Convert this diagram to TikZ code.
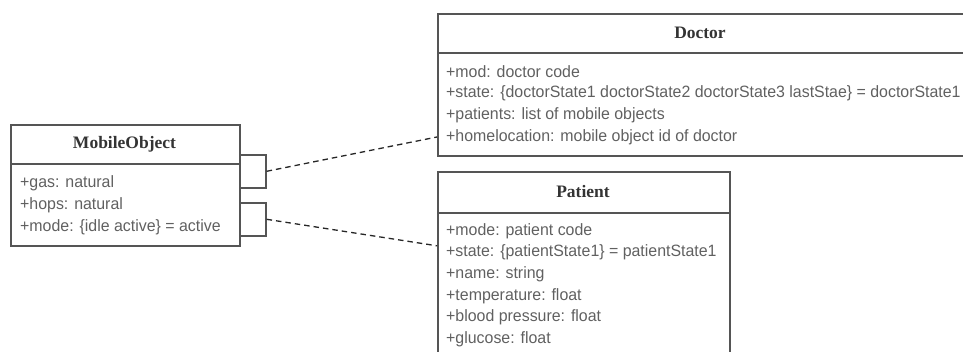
\documentclass[tikz,border=0pt]{standalone}
\usepackage{fontspec}
\setmainfont[FakeStretch=0.97]{Liberation Sans}
\newfontfamily\hdrfont{Liberation Serif}
\definecolor{lncol}{HTML}{555555}
\definecolor{txcol}{HTML}{606060}
\definecolor{hdcol}{HTML}{333333}
\begin{document}
\begin{tikzpicture}[x=1pt,y=-1pt,
  box/.style={draw=lncol,line width=1.6pt,rectangle,anchor=north west,inner sep=0pt,fill=none},
  stub/.style={draw=lncol,line width=1.6pt,rectangle,anchor=north west,inner sep=0pt,minimum width=26pt,minimum height=33pt},
  hdr/.style={font=\hdrfont\bfseries\fontsize{17.5}{20}\selectfont,text=hdcol,inner sep=0pt},
  attr/.style={font=\fontsize{16.4}{20}\selectfont,text=txcol,anchor=west,inner sep=0pt},
  conn/.style={draw=black!85,line width=1.3pt,dash pattern=on 5.5pt off 4pt}]
\useasboundingbox (0,0) rectangle (963,352);
\begin{scope}
\clip (0,0) rectangle (963,352);
% MobileObject
\node[box,minimum width=229pt,minimum height=121pt] (mo) at (10,124) {};
\draw[lncol,line width=1.6pt] (10,164) -- (239,164);
\node[hdr] (mohdr) at (124.5,144) {MobileObject};
\node[attr] (mo1) at (20,183) {+gas: natural};
\node[attr] (mo2) at (20,205) {+hops: natural};
\node[attr] (mo3) at (20,227) {+mode: \{idle active\} = active};
\node[stub] (r1) at (239,154) {};
\node[stub] (r2) at (239,202) {};
% Doctor
\node[box,minimum width=530pt,minimum height=142pt] (doc) at (437,13) {};
\draw[lncol,line width=1.6pt] (437,53) -- (967,53);
\node[hdr] (dochdr) at (700,33) {Doctor};
\node[attr] (d1) at (446,72) {+mod: doctor code};
\node[attr] (d2) at (446,93.7) {+state: \{doctorState1 doctorState2 doctorState3 lastStae\} = doctorState1};
\node[attr] (d3) at (446,115.4) {+patients: list of mobile objects};
\node[attr] (d4) at (446,137) {+homelocation: mobile object id of doctor};
% Patient
\node[box,minimum width=292pt,minimum height=195pt] (pat) at (437,171) {};
\draw[lncol,line width=1.6pt] (437,213) -- (729,213);
\node[hdr] (pathdr) at (583,192) {Patient};
\node[attr] (p1) at (446,231) {+mode: patient code};
\node[attr] (p2) at (446,252.6) {+state: \{patientState1\} = patientState1};
\node[attr] (p3) at (446,274.2) {+name: string};
\node[attr] (p4) at (446,295.8) {+temperature: float};
\node[attr] (p5) at (446,317.4) {+blood pressure: float};
\node[attr] (p6) at (446,339) {+glucose: float};
% connectors
\draw[conn] (r1.east) -- (doc.west |- d4.west);
\draw[conn] (r2.east) -- ([yshift=23.5pt]pat.west);
\end{scope}
\end{tikzpicture}
\end{document}
